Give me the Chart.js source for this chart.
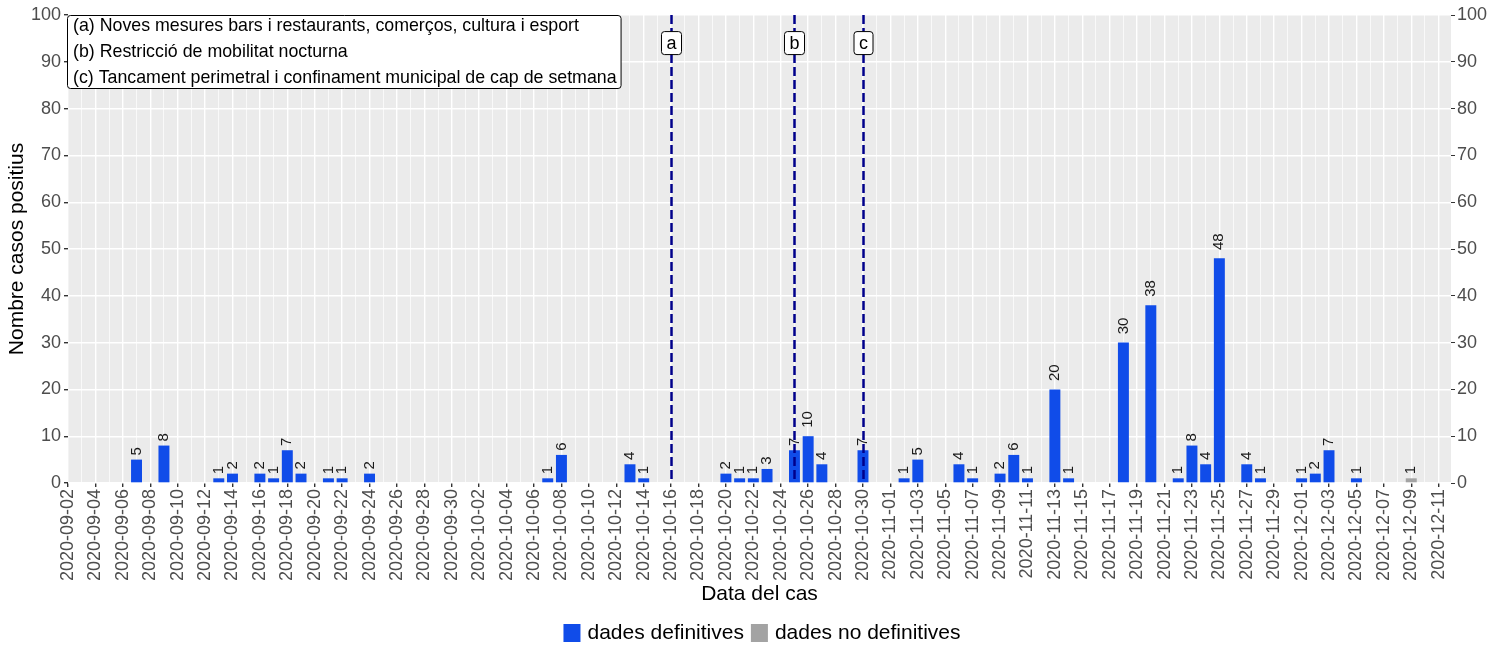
<!DOCTYPE html>
<html>
<head>
<meta charset="utf-8">
<script src="https://cdn.jsdelivr.net/npm/chart.js@4.4.1/dist/chart.umd.min.js"></script>
<style>
html, body { margin: 0; padding: 0; background: #fff; }
</style>
</head>
<body>
<canvas id="casos" width="1507" height="645"></canvas>
<script>
// dades
var inici = '2020-09-02';
var ultimDia = '2020-12-11';

var dates = ['2020-09-07', '2020-09-09', '2020-09-13', '2020-09-14', '2020-09-16', '2020-09-17',
    '2020-09-18', '2020-09-19', '2020-09-21', '2020-09-22', '2020-09-24', '2020-10-07', '2020-10-08',
    '2020-10-13', '2020-10-14', '2020-10-20', '2020-10-21', '2020-10-22', '2020-10-23', '2020-10-25',
    '2020-10-26', '2020-10-27', '2020-10-30', '2020-11-02', '2020-11-03', '2020-11-06', '2020-11-07',
    '2020-11-09', '2020-11-10', '2020-11-11', '2020-11-13', '2020-11-14', '2020-11-18', '2020-11-20',
    '2020-11-22', '2020-11-23', '2020-11-24', '2020-11-25', '2020-11-27', '2020-11-28', '2020-12-01',
    '2020-12-02', '2020-12-03', '2020-12-05'];
var casos = [5, 8, 1, 2, 2, 1, 7, 2, 1, 1, 2, 1, 6, 4, 1, 2, 1, 1, 3, 7, 10, 4, 7, 1, 5, 4, 1, 2, 6, 1,
    20, 1, 30, 38, 1, 8, 4, 48, 4, 1, 1, 2, 7, 1];

var datesNoDef = ['2020-12-09'];
var casosNoDef = [1];

var mesuresDates = ['2020-10-16', '2020-10-25', '2020-10-30'];
var mesuresLletra = ['a', 'b', 'c'];
var mesuresText = [
    '(a) Noves mesures bars i restaurants, comerços, cultura i esport',
    '(b) Restricció de mobilitat nocturna',
    '(c) Tancament perimetral i confinament municipal de cap de setmana'
];

var font = '"Liberation Sans", Arial, Helvetica, sans-serif';
Chart.defaults.font.family = font;

// dies des del primer dia
function dia(d) {
    return Math.round((Date.parse(d) - Date.parse(inici)) / 86400000);
}
function dataDe(n) {
    return new Date(Date.parse(inici) + n * 86400000).toISOString().slice(0, 10);
}
function punts(ds, vs) {
    return ds.map(function (d, i) { return {x: dia(d), y: vs[i]}; });
}

// fons gris del panell
var fons = {
    id: 'fons',
    beforeDraw: function (chart) {
        var c = chart.ctx, a = chart.chartArea;
        c.save();
        c.fillStyle = '#fff';
        c.fillRect(0, 0, chart.width, chart.height);
        c.fillStyle = '#EBEBEB';
        c.fillRect(a.left, a.top, a.right - a.left, a.bottom - a.top);
        c.restore();
    }
};

// etiquetes sobre les barres, linies de mesures i requadre
var extres = {
    id: 'extres',
    afterDatasetsDraw: function (chart) {
        var c = chart.ctx, a = chart.chartArea;
        var x = chart.scales.x, y = chart.scales.y;
        c.save();
        // valors
        c.font = '15px ' + font;
        c.fillStyle = '#1A1A1A';
        c.textAlign = 'left';
        c.textBaseline = 'middle';
        chart.data.datasets.forEach(function (ds, i) {
            chart.getDatasetMeta(i).data.forEach(function (el, j) {
                var txt = String(ds.data[j].y);
                var w = c.measureText(txt).width;
                c.save();
                c.translate(el.x, el.y - w * 0.5);
                c.rotate(-Math.PI / 2);
                c.fillText(txt, 0, 0);
                c.restore();
            });
        });
        // linies verticals
        c.strokeStyle = '#00008B';
        c.lineWidth = 2.5;
        c.setLineDash([9, 4]);
        mesuresDates.forEach(function (d) {
            var px = Math.round(x.getPixelForValue(dia(d))) + 0.5;
            c.beginPath();
            c.moveTo(px, a.top);
            c.lineTo(px, a.bottom);
            c.stroke();
        });
        c.setLineDash([]);
        // lletres
        c.font = '18px ' + font;
        c.textAlign = 'center';
        mesuresDates.forEach(function (d, i) {
            var px = Math.round(x.getPixelForValue(dia(d))) + 0.5;
            var py = y.getPixelForValue(94);
            var w = c.measureText(mesuresLletra[i]).width + 10;
            var h = 23;
            c.beginPath();
            c.roundRect(px - w / 2, py - h / 2, w, h, 3);
            c.fillStyle = '#fff';
            c.fill();
            c.strokeStyle = '#000';
            c.lineWidth = 1;
            c.stroke();
            c.fillStyle = '#000';
            c.fillText(mesuresLletra[i], px, py + 1);
        });
        // requadre de mesures
        c.font = '17.8px ' + font;
        var maxW = 0;
        mesuresText.forEach(function (t) { maxW = Math.max(maxW, c.measureText(t).width); });
        var bx = Math.round(x.getPixelForValue(0)) - 0.5;
        var by = Math.round(y.getPixelForValue(100)) + 0.5;
        c.beginPath();
        c.roundRect(bx, by, maxW + 10, 73, 3);
        c.fillStyle = '#fff';
        c.fill();
        c.strokeStyle = '#000';
        c.lineWidth = 1;
        c.stroke();
        c.fillStyle = '#000';
        c.textAlign = 'left';
        mesuresText.forEach(function (t, i) {
            c.fillText(t, bx + 5.5, by + 10.5 + i * 26);
        });
        c.restore();
    }
};

// llegenda a sota
var llegenda = {
    id: 'llegenda',
    afterDraw: function (chart) {
        var c = chart.ctx, a = chart.chartArea;
        c.save();
        c.font = '21px ' + font;
        c.textBaseline = 'middle';
        c.textAlign = 'left';
        var sets = chart.data.datasets;
        var total = 0;
        sets.forEach(function (ds, i) {
            total += 17 + 7 + c.measureText(ds.label).width + (i ? 7 : 0);
        });
        var px = (a.left + a.right) / 2 + 2.5 - total / 2;
        var py = chart.height - 12;
        sets.forEach(function (ds, i) {
            if (i) px += 7;
            c.fillStyle = ds.backgroundColor;
            c.fillRect(px, py - 9, 17, 18);
            px += 17 + 7;
            c.fillStyle = '#000';
            c.fillText(ds.label, px, py);
            px += c.measureText(ds.label).width;
        });
        c.restore();
    }
};

// linies i marques: les principals mes gruixudes
function valor(ctx) { return ctx.tick ? ctx.tick.value : 1; }
var gruix = function (ctx) { return valor(ctx) % 2 === 0 ? 1.4 : 0.7; };
var marca = function (ctx) { return valor(ctx) % 2 === 0 ? '#333333' : 'rgba(0,0,0,0)'; };
var gruixY = function (ctx) { return valor(ctx) % 10 === 0 ? 1.4 : 0.7; };
var marcaY = function (ctx) { return valor(ctx) % 10 === 0 ? '#333333' : 'rgba(0,0,0,0)'; };
var etiquetaY = function (v) { return v % 10 === 0 ? v : ''; };

var grafic = new Chart(document.getElementById('casos'), {
    type: 'bar',
    data: {
        datasets: [{
            label: 'dades definitives',
            data: punts(dates, casos),
            backgroundColor: '#104CE9',
            grouped: false,
            barPercentage: 0.8,
            categoryPercentage: 1
        }, {
            label: 'dades no definitives',
            data: punts(datesNoDef, casosNoDef),
            backgroundColor: '#A3A3A3',
            grouped: false,
            barPercentage: 0.8,
            categoryPercentage: 1
        }]
    },
    options: {
        responsive: false,
        animation: false,
        devicePixelRatio: 1,
        layout: {padding: {top: 15, bottom: 36, left: 0, right: 0}},
        plugins: {
            legend: {display: false},
            tooltip: {enabled: false}
        },
        scales: {
            x: {
                type: 'linear',
                offset: false,
                min: 0,
                max: dia(ultimDia) + 0.9,
                afterFit: function (s) { s.height = 126; },
                border: {display: false},
                grid: {color: '#FFFFFF', lineWidth: gruix, tickColor: marca, tickLength: 4, offset: false},
                ticks: {
                    stepSize: 1,
                    includeBounds: false,
                    autoSkip: false,
                    maxRotation: 90,
                    minRotation: 90,
                    padding: 2,
                    color: '#4D4D4D',
                    font: {size: 18},
                    callback: function (v) { return v % 2 === 0 ? dataDe(v) : ''; }
                },
                title: {
                    display: true,
                    text: 'Data del cas',
                    color: '#000',
                    font: {size: 21},
                    padding: {top: 0, bottom: 2.4}
                }
            },
            y: {
                min: 0,
                max: 100,
                afterFit: function (s) { s.width = 68; },
                border: {display: false},
                grid: {color: '#FFFFFF', lineWidth: gruixY, tickColor: marcaY, tickLength: 4},
                ticks: {stepSize: 5, padding: 3, color: '#4D4D4D', font: {size: 18}, callback: etiquetaY},
                title: {
                    display: true,
                    text: 'Nombre casos positius',
                    color: '#000',
                    font: {size: 21},
                    padding: {top: 4.4, bottom: 0}
                }
            },
            y2: {
                position: 'right',
                min: 0,
                max: 100,
                afterFit: function (s) { s.width = 56; },
                border: {display: false},
                grid: {drawOnChartArea: false, tickColor: marcaY, tickLength: 4},
                ticks: {stepSize: 5, padding: 2, color: '#4D4D4D', font: {size: 18}, callback: etiquetaY}
            }
        }
    },
    plugins: [fons, extres, llegenda]
});
</script>
</body>
</html>
